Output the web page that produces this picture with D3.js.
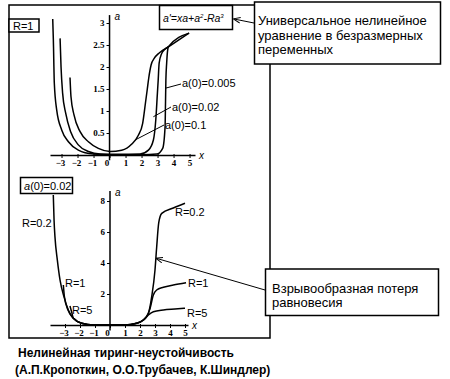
<!DOCTYPE html>
<html>
<head>
<meta charset="utf-8">
<script src="https://cdn.jsdelivr.net/npm/d3@7"></script>
<style>
	body { margin: 0; background: #fff; }
	svg { display: block; }
</style>
</head>
<body>
<svg id="chart" width="450" height="379"></svg>
<script>
// tick labels
const xTicks = [-3, -2, -1, 0, 1, 2, 3, 4, 5];
const yTicksTop = [0.5, 1, 1.5, 2, 2.5, 3];
const yTicksBottom = [2, 4, 6, 8];

// top panel (R=1), curves for different a(0)  [x, a]
const topNames = ['a(0)=0.005', 'a(0)=0.02', 'a(0)=0.1'];
const topA005 = [
	[-3.55, 3.09], [-3.51, 2.61], [-3.45, 1.63], [-3.3, 1.02], [-2.99, 0.57],
	[-2.57, 0.3], [-1.95, 0.11], [-1.01, 0.02], [0, 0.005], [2, 0.006],
	[2.95, 0.02], [3.32, 0.15], [3.47, 0.64], [3.5, 1.25], [3.52, 1.7],
	[3.57, 2.09], [3.62, 2.35], [3.68, 2.46], [4.97, 2.77]
];
const topA02 = [
	[-3.09, 2.65], [-3.03, 2.0], [-2.93, 1.4], [-2.74, 0.95], [-2.43, 0.53],
	[-1.95, 0.23], [-1.32, 0.08], [-0.59, 0.02], [0.5, 0.015], [1.91, 0.02],
	[2.43, 0.11], [2.74, 0.34], [2.89, 0.8], [2.99, 1.4], [3.04, 1.7],
	[3.1, 2.09], [3.25, 2.3], [3.45, 2.4], [3.68, 2.46]
];
const topA1 = [
	[-2.47, 1.76], [-2.41, 1.33], [-2.22, 0.91], [-1.84, 0.53], [-1.32, 0.3],
	[-0.7, 0.15], [0.03, 0.08], [0.76, 0.11], [1.39, 0.25], [1.8, 0.45],
	[2.07, 0.72], [2.24, 1.17], [2.36, 1.5], [2.45, 1.75], [2.6, 2.05],
	[2.8, 2.2], [3.1, 2.32], [3.68, 2.46], [4.97, 2.77]
];

// bottom panel (a(0)=0.02), curves for different R  [x, a]
const bottomNames = ['R=0.2', 'R=1', 'R=5'];
const botR02 = [
	[-3.78, 8.39], [-3.73, 6.77], [-3.67, 5.7], [-3.51, 4.19], [-3.33, 2.9],
	[-3.07, 1.83], [-2.78, 0.97], [-2.44, 0.43], [-1.89, 0.11], [-1.11, 0.0],
	[1.0, 0.0], [1.78, 0.11], [2.22, 0.32], [2.56, 0.75], [2.78, 1.83],
	[3.0, 3.55], [3.11, 5.0], [3.25, 6.6], [3.45, 7.2], [4.22, 7.55], [5.0, 7.85]
];
const botR1 = [
	[-3.11, 2.58], [-3.04, 1.83], [-2.8, 0.97], [-2.44, 0.43], [-1.89, 0.11],
	[-1.11, 0.0], [1.0, 0.0], [1.78, 0.11], [2.22, 0.32], [2.44, 0.54],
	[2.67, 1.07], [2.89, 1.94], [3.11, 2.26], [3.56, 2.43], [4.22, 2.58], [5.07, 2.73]
];
const botR5 = [
	[-2.67, 1.23], [-2.56, 0.86], [-2.44, 0.43], [-1.89, 0.11], [-1.11, 0.0],
	[1.0, 0.0], [1.78, 0.11], [2.22, 0.32], [2.56, 0.65], [2.89, 0.86],
	[3.56, 0.97], [4.33, 1.03], [5.0, 1.08]
];

const formulaParts = ["a'=xa+a", '2', '-Ra', '3'];
const noteTop = ['Универсальное нелинейное', 'уравнение в безразмерных', 'переменных'];
const noteBottom = ['Взрывообразная потеря', ' равновесия'];
const caption = ['Нелинейная тиринг-неустойчивость', '(А.П.Кропоткин, О.О.Трубачев, К.Шиндлер)'];

const svg = d3.select('#chart');
const sans = 'Liberation Sans, Arial, sans-serif';
const serif = 'Liberation Serif, Times New Roman, serif';

// arrow marker
svg.append('defs')
	.append('marker')
	.attr('id', 'arrow')
	.attr('viewBox', '0 0 10 10')
	.attr('refX', 9)
	.attr('refY', 5)
	.attr('markerWidth', 7)
	.attr('markerHeight', 7)
	.attr('orient', 'auto')
	.append('path')
	.attr('d', 'M0,1 L10,5 L0,9')
	.attr('fill', 'none')
	.attr('stroke', '#000')
	.attr('stroke-width', 1.4);

// outer frame
svg.append('rect')
	.attr('x', 9).attr('y', 5)
	.attr('width', 261).attr('height', 333)
	.attr('fill', 'none')
	.attr('stroke', '#000')
	.attr('stroke-width', 1.5);

// scales
const xT = d3.scaleLinear().domain([-3.72, 5.34]).range([50, 195]);
const yT = d3.scaleLinear().domain([0, 3]).range([155, 23]);
const xB = d3.scaleLinear().domain([-4, 5.2]).range([50, 188]);
const yB = d3.scaleLinear().domain([0, 8]).range([325, 201]);

function drawAxes(x, y, yTicks, yFmt, yTop, yBottom) {
	const g = svg.append('g');
	// x axis
	g.append('g')
		.attr('transform', `translate(0,${y(0)})`)
		.call(d3.axisBottom(x).tickValues(xTicks).tickSizeInner(3).tickSizeOuter(0).tickPadding(2))
		.call((a) => a.select('.domain').attr('stroke-width', 1.5))
		.call((a) => a.selectAll('.tick line').attr('y1', -1))
		.call((a) => a.selectAll('.tick text')
			.attr('font-family', serif)
			.attr('font-weight', 'bold')
			.attr('font-size', 9)
			.attr('dx', (d) => (d === 0 ? -3 : d < 0 ? -1.5 : 0)));
	// y axis
	g.append('line')
		.attr('x1', x(0)).attr('x2', x(0))
		.attr('y1', y(yBottom)).attr('y2', y(yTop))
		.attr('stroke', '#000')
		.attr('stroke-width', 1.5);
	g.append('g')
		.attr('transform', `translate(${x(0)},0)`)
		.call(d3.axisLeft(y).tickValues(yTicks).tickFormat(yFmt).tickSizeInner(3).tickSizeOuter(0).tickPadding(2))
		.call((a) => a.select('.domain').remove())
		.call((a) => a.selectAll('.tick text')
			.attr('font-family', serif)
			.attr('font-weight', 'bold')
			.attr('font-size', 9));
	g.append('text')
		.attr('x', x(0) + 5).attr('y', y(yTop) + 5)
		.attr('font-family', sans).attr('font-style', 'italic').attr('font-size', 10)
		.text('a');
	g.append('text')
		.attr('x', x.range()[1] + 4).attr('y', y(0) + 4)
		.attr('font-family', sans).attr('font-style', 'italic').attr('font-size', 10)
		.text('x');
}

drawAxes(xT, yT, yTicksTop, d3.format('~g'), 3.18, -0.12);
drawAxes(xB, yB, yTicksBottom, d3.format('d'), 8.65, -0.35);

function drawCurve(data, x, y) {
	svg.append('path')
		.datum(data)
		.attr('fill', 'none')
		.attr('stroke', '#000')
		.attr('stroke-width', 1.5)
		.attr('d', d3.line().x((d) => x(d[0])).y((d) => y(d[1])).curve(d3.curveMonotoneX));
}

[topA005, topA02, topA1].forEach((c) => drawCurve(c, xT, yT));
[botR02, botR1, botR5].forEach((c) => drawCurve(c, xB, yB));

function label(txt, px, py, size) {
	svg.append('text')
		.attr('x', px).attr('y', py)
		.attr('font-family', sans)
		.attr('font-size', size || 11)
		.text(txt);
}

function leader(x1, y1, x2, y2) {
	svg.append('line')
		.attr('x1', x1).attr('y1', y1).attr('x2', x2).attr('y2', y2)
		.attr('stroke', '#000').attr('stroke-width', 1);
}

// top panel labels
leader(xT(3.51), yT(1.52), 181, 84);
label(topNames[0], 182, 87);
leader(xT(2.74), yT(0.87), 171, 107);
label(topNames[1], 172, 111);
leader(xT(1.59), yT(0.34), 164, 125);
label(topNames[2], 165, 129);

// bottom panel labels
label(bottomNames[0], 22, 227);
label(bottomNames[0], 175, 216);
label(bottomNames[1], 65, 287);
label(bottomNames[1], 188, 287);
label(bottomNames[2], 72, 314);
label(bottomNames[2], 187, 317);

// boxes
function box(x, y, w, h) {
	svg.append('rect')
		.attr('x', x).attr('y', y).attr('width', w).attr('height', h)
		.attr('fill', '#fff').attr('stroke', '#000').attr('stroke-width', 1.5);
}

box(9, 19, 30, 13);
label('R=1', 13, 30);

box(20.5, 177.5, 52, 16);
const a0 = svg.append('text').attr('x', 24).attr('y', 189.5)
	.attr('font-family', sans).attr('font-size', 11);
a0.append('tspan').attr('font-style', 'italic').text('a');
a0.append('tspan').text('(0)=0.02');

box(159.5, 5.5, 73, 24);
const f = svg.append('text').attr('x', 163).attr('y', 21.5)
	.attr('font-family', sans).attr('font-size', 10.5).attr('font-style', 'italic');
f.append('tspan').text(formulaParts[0]);
f.append('tspan').attr('font-size', 6).attr('dy', -4).text(formulaParts[1]);
f.append('tspan').attr('dy', 4).text(formulaParts[2]);
f.append('tspan').attr('font-size', 6).attr('dy', -4).text(formulaParts[3]);

// callout boxes
box(254.5, 2, 186, 62);
noteTop.forEach((t, i) => label(t, 258, 25 + i * 14.5, 13));
svg.append('line')
	.attr('x1', 254).attr('y1', 23).attr('x2', 234).attr('y2', 19)
	.attr('stroke', '#000').attr('stroke-width', 1)
	.attr('marker-end', 'url(#arrow)');

box(265.5, 269, 173, 46.5);
noteBottom.forEach((t, i) => label(t, 272, 293 + i * 14, 13));
svg.append('line')
	.attr('x1', 265).attr('y1', 290).attr('x2', xB(3.1)).attr('y2', yB(4.3))
	.attr('stroke', '#000').attr('stroke-width', 1)
	.attr('marker-end', 'url(#arrow)');

// caption
caption.forEach((t, i) => {
	svg.append('text')
		.attr('x', i === 0 ? 18 : 15)
		.attr('y', 357 + i * 17)
		.attr('font-family', sans)
		.attr('font-size', 12)
		.attr('font-weight', 'bold')
		.text(t);
});
</script>
</body>
</html>
